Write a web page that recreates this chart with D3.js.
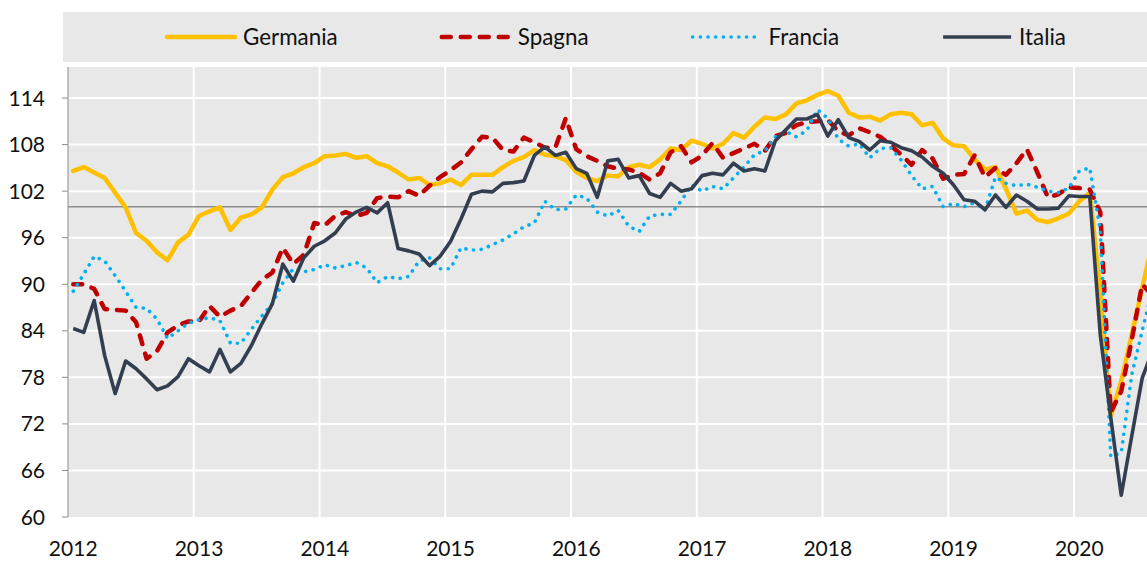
<!DOCTYPE html>
<html>
<head>
<meta charset="utf-8">
<script src="https://cdn.jsdelivr.net/npm/d3@7"></script>
<style>
  html, body { margin: 0; padding: 0; background: #fff; }
  svg { display: block; font-family: Lato, "Open Sans", sans-serif; }
</style>
</head>
<body>
<div id="chart"></div>
<script>
// monthly index, Jan 2012 .. Aug 2020
const years = ['2012', '2013', '2014', '2015', '2016', '2017', '2018', '2019', '2020'];
const yTicks = [60, 66, 72, 78, 84, 90, 96, 102, 108, 114];
const refLevel = 100;

const germania = [
  104.6, 105.1, 104.4, 103.7, 101.8, 99.9, 96.6, 95.6, 94.1, 93.1, 95.4, 96.4,
  98.8, 99.4, 99.9, 97.0, 98.6, 99.0, 99.9, 102.2, 103.8, 104.3, 105.1, 105.6,
  106.5, 106.6, 106.8, 106.3, 106.5, 105.6, 105.2, 104.4, 103.5, 103.7, 102.8, 103.0,
  103.5, 102.8, 104.1, 104.1, 104.1, 105.1, 105.9, 106.4, 107.3, 106.7, 106.5, 106.0,
  104.5, 103.7, 103.3, 104.0, 103.9, 105.1, 105.4, 105.1, 106.1, 107.5, 107.3, 108.5,
  108.1, 107.5, 108.1, 109.5, 108.9, 110.3, 111.5, 111.3, 111.9, 113.3, 113.7, 114.4,
  114.9, 114.3, 112.1, 111.5, 111.6, 111.1, 111.9, 112.1, 111.9, 110.5, 110.8, 108.8,
  107.9, 107.8, 106.1, 104.8, 105.1, 102.3, 99.1, 99.5, 98.3, 98.0, 98.5, 99.1,
  100.7, 101.8, 89.0, 73.0, 77.5, 83.5, 89.5, 95.5
];
const spagna = [
  90.0, 90.0, 89.4, 86.8, 86.7, 86.6, 85.1, 80.4, 81.4, 83.8, 84.7, 85.2,
  85.2, 87.2, 85.8, 86.6, 87.2, 88.9, 90.6, 91.5, 94.7, 92.6, 93.8, 97.9,
  97.6, 98.8, 99.3, 98.8, 99.2, 101.1, 101.3, 101.2, 102.0, 101.4, 102.7, 103.8,
  104.7, 105.7, 107.4, 109.0, 108.9, 107.3, 107.1, 108.9, 108.3, 107.6, 107.6, 111.4,
  107.4, 106.5, 105.9, 105.2, 104.9, 104.8, 104.4, 103.5, 104.3, 107.0, 107.8, 105.7,
  106.6, 108.2, 106.3, 106.9, 107.5, 108.1, 107.2, 109.1, 109.5, 110.5, 110.9, 111.0,
  111.2, 109.7, 109.2, 110.1, 109.6, 109.0, 107.9, 106.7, 105.4, 107.3, 106.2, 103.6,
  104.1, 104.2, 106.6, 103.8, 105.0, 104.1, 105.6, 107.4, 104.4, 101.2, 101.6, 102.5,
  102.4, 102.2, 99.3, 73.5, 76.2, 82.8, 90.0, 88.5
];
const francia = [
  89.1, 91.3, 93.6, 93.0, 91.1, 89.1, 87.0, 86.9, 85.5, 83.0, 84.0, 85.0,
  85.4, 85.7, 85.3, 82.4, 82.4, 84.2, 85.9, 87.5, 90.2, 92.0, 91.6, 91.9,
  92.5, 92.1, 92.4, 92.8, 92.1, 90.2, 91.0, 90.7, 91.0, 93.0, 93.4, 92.0,
  92.0, 94.7, 94.4, 94.5, 95.1, 95.7, 96.5, 97.4, 97.9, 100.7, 99.6, 99.7,
  101.5, 101.1, 99.3, 98.8, 99.5, 97.5, 96.8, 98.8, 99.0, 99.0, 100.7, 102.8,
  102.0, 102.6, 102.3, 103.7, 105.1, 106.7, 107.2, 109.0, 109.7, 109.0, 109.8, 112.5,
  111.4, 108.7, 107.8, 108.1, 106.3, 107.5, 107.6, 106.0, 104.0, 102.3, 102.6, 100.0,
  100.4, 100.0, 100.5, 99.6, 103.8, 103.0, 102.7, 102.9, 102.5, 102.0, 101.8, 102.4,
  104.6, 105.0, 97.0, 67.8, 68.3, 78.3, 84.0, 89.5
];
const italia = [
  84.3, 83.8, 87.9, 80.8, 75.9, 80.1, 79.1, 77.8, 76.4, 76.9, 78.1, 80.4,
  79.5, 78.7, 81.6, 78.7, 79.8, 82.1, 84.9, 87.5, 92.6, 90.4, 93.4, 94.9,
  95.6, 96.6, 98.4, 99.3, 99.9, 99.2, 100.5, 94.6, 94.3, 93.9, 92.4, 93.6,
  95.5, 98.4, 101.6, 102.0, 101.9, 103.0, 103.1, 103.3, 106.6, 107.7, 106.6, 107.0,
  104.9, 104.3, 101.2, 105.9, 106.1, 103.7, 104.0, 101.7, 101.2, 103.0, 102.0, 102.3,
  104.0, 104.3, 104.1, 105.6, 104.6, 104.9, 104.6, 108.5, 109.9, 111.3, 111.3, 111.9,
  109.1, 111.2, 108.9, 108.4, 107.3, 108.5, 108.3, 107.6, 107.2, 106.4, 105.2, 104.3,
  102.8, 100.9, 100.7, 99.6, 101.5, 99.9, 101.5, 100.7, 99.7, 99.7, 99.8, 101.4,
  101.3, 101.3, 83.5, 72.8, 62.8, 70.4, 77.9, 81.5
];

(function () {
  'use strict';

  const series = [
    { name: 'Germania', values: germania, color: '#FFC000', width: 4.5, dash: null, cap: 'round' },
    { name: 'Spagna', values: spagna, color: '#C00000', width: 4.5, dash: '9,10', cap: 'round' },
    { name: 'Francia', values: francia, color: '#00B0F0', width: 3.6, dash: '0.1,7.6', cap: 'round' },
    { name: 'Italia', values: italia, color: '#333F50', width: 3.6, dash: null, cap: 'butt' }
  ];

  const W = 1147, H = 561;
  const plotLeft = 68, plotTop = 67, plotBottom = 517;
  const monthW = 10.48;
  const n = germania.length;
  const plotRight = plotLeft + n * monthW;
  const bg = '#e8e8e8';

  const svg = d3.select('#chart').append('svg')
    .attr('width', W)
    .attr('height', H);

  const x = d3.scaleBand().domain(d3.range(n)).range([plotLeft, plotRight]);
  const y = d3.scaleLinear().domain([60, 118]).range([plotBottom, plotTop]);
  const cx = i => x(i) + x.bandwidth() / 2;

  // plot background
  svg.append('rect')
    .attr('x', plotLeft).attr('y', plotTop)
    .attr('width', plotRight - plotLeft).attr('height', plotBottom - plotTop)
    .attr('fill', bg);

  // horizontal gridlines
  svg.append('g')
    .selectAll('line')
    .data(yTicks.filter(d => d > 60))
    .join('line')
    .attr('x1', plotLeft).attr('x2', plotRight)
    .attr('y1', d => y(d)).attr('y2', d => y(d))
    .attr('stroke', '#fff').attr('stroke-width', 2);

  // vertical year gridlines
  svg.append('g')
    .selectAll('line')
    .data(years.slice(1))
    .join('line')
    .attr('x1', (d, k) => x((k + 1) * 12)).attr('x2', (d, k) => x((k + 1) * 12))
    .attr('y1', plotTop).attr('y2', plotBottom)
    .attr('stroke', '#fff').attr('stroke-width', 2);

  // reference line at 100
  svg.append('line')
    .attr('x1', plotLeft).attr('x2', plotRight)
    .attr('y1', y(refLevel)).attr('y2', y(refLevel))
    .attr('stroke', '#8c8c8c').attr('stroke-width', 1.5);

  // y axis
  svg.append('line')
    .attr('x1', plotLeft).attr('x2', plotLeft)
    .attr('y1', plotTop).attr('y2', plotBottom)
    .attr('stroke', '#8c8c8c').attr('stroke-width', 1);

  svg.append('g')
    .selectAll('line')
    .data(yTicks)
    .join('line')
    .attr('x1', plotLeft - 6).attr('x2', plotLeft)
    .attr('y1', d => y(d)).attr('y2', d => y(d))
    .attr('stroke', '#8c8c8c').attr('stroke-width', 1);

  svg.append('g')
    .selectAll('text')
    .data(yTicks)
    .join('text')
    .attr('x', 45)
    .attr('y', d => y(d))
    .attr('dy', '0.36em')
    .attr('text-anchor', 'end')
    .attr('font-size', '21px')
    .attr('fill', '#111')
    .text(d => d);

  // x labels at January of each year
  svg.append('g')
    .selectAll('text')
    .data(years)
    .join('text')
    .attr('x', (d, k) => cx(k * 12))
    .attr('y', 556)
    .attr('text-anchor', 'middle')
    .attr('font-size', '21px')
    .attr('fill', '#111')
    .text(d => d);

  // series lines
  const line = d3.line()
    .x((d, i) => cx(i))
    .y(d => y(d));

  svg.append('g')
    .selectAll('path')
    .data(series)
    .join('path')
    .attr('d', s => line(s.values))
    .attr('fill', 'none')
    .attr('stroke', s => s.color)
    .attr('stroke-width', s => s.width)
    .attr('stroke-dasharray', s => s.dash)
    .attr('stroke-linecap', s => s.cap)
    .attr('stroke-linejoin', 'round');

  // legend band
  svg.append('rect')
    .attr('x', 63).attr('y', 12)
    .attr('width', W - 63).attr('height', 50)
    .attr('fill', bg);

  const legend = svg.append('g');
  let lx = 167;
  series.forEach(s => {
    const g = legend.append('g');
    g.append('line')
      .attr('x1', lx).attr('x2', lx + 68)
      .attr('y1', 37).attr('y2', 37)
      .attr('stroke', s.color)
      .attr('stroke-width', s.width)
      .attr('stroke-dasharray', s.dash)
      .attr('stroke-linecap', s.cap);
    const t = g.append('text')
      .attr('x', lx + 76)
      .attr('y', 37)
      .attr('dy', '0.36em')
      .attr('font-size', '22.4px')
      .attr('fill', '#111')
      .text(s.name);
    lx = lx + 76 + t.node().getComputedTextLength() + 104;
  });
})();
</script>
</body>
</html>
